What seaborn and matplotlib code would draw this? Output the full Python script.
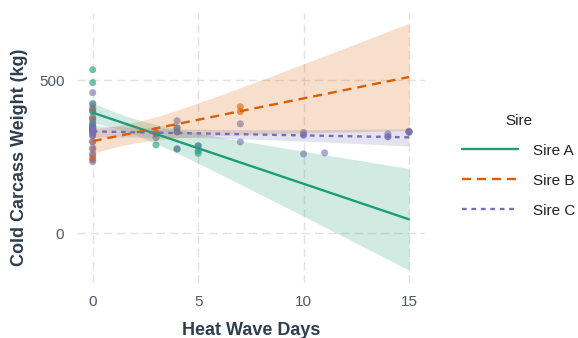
import matplotlib
matplotlib.use('Agg')
import matplotlib.pyplot as plt
from matplotlib.lines import Line2D
import seaborn as sns
import numpy as np
import pandas as pd

# heat wave days / cold carcass weight per sire
daysA = [0, 0, 0, 0, 0, 0, 0, 0, 0, 0, 0, 0, 3, 4, 4, 4, 5, 5, 5]
weightA = [535, 493, 345, 357, 345, 340, 380, 410, 360, 350, 400, 425,
           289, 332, 345, 276, 270, 286, 262]
daysB = [0, 0, 0, 0, 0, 0, 0, 0, 3, 3, 7, 7]
weightB = [405, 375, 335, 300, 275, 255, 245, 240, 326, 330, 414, 398]
daysC = [0, 0, 0, 0, 0, 0, 0, 0, 0, 0, 0, 0, 0, 0, 0, 0, 0, 0,
         3, 4, 4, 4, 4, 5, 7, 7, 10, 10, 10, 10, 11, 14, 14, 14, 15, 15, 15, 15]
weightC = [460, 421, 398, 370, 350, 340, 330, 320, 300, 280, 260, 234,
           335, 330, 345, 325, 340, 320,
           313, 368, 345, 332, 276, 286, 358, 299, 322, 260, 330, 322,
           263, 316, 325, 316, 332, 330, 334, 332]

sires = ['Sire A', 'Sire B', 'Sire C']
colors = ['#1B9E77', '#D95F02', '#7570B3']
styles = ['-', (0, (6.5, 4.3)), (0, (3.4, 3.4))]
xticks = [0, 5, 10, 15]
yticks = [0, 500]

df = pd.DataFrame({
    'days': daysA + daysB + daysC,
    'weight': weightA + weightB + weightC,
    'Sire': ['Sire A'] * len(daysA) + ['Sire B'] * len(daysB) + ['Sire C'] * len(daysC),
})


def t975(nu):
    # Cornish-Fisher expansion of the 97.5% Student t quantile
    z = 1.959964
    return (z + (z**3 + z) / (4 * nu)
            + (5 * z**5 + 16 * z**3 + 3 * z) / (96 * nu**2)
            + (3 * z**7 + 19 * z**5 + 17 * z**3 - 15 * z) / (384 * nu**3))


def lm_band(x, y, grid):
    # 95% confidence band of a straight-line fit (like geom_smooth(method='lm'))
    x = np.asarray(x, float)
    y = np.asarray(y, float)
    n = len(x)
    b, a = np.polyfit(x, y, 1)
    s = np.sqrt(np.sum((y - (a + b * x))**2) / (n - 2))
    sxx = np.sum((x - x.mean())**2)
    se = s * np.sqrt(1 / n + (grid - x.mean())**2 / sxx)
    fit = a + b * grid
    return fit - t975(n - 2) * se, fit + t975(n - 2) * se


sns.set_theme(style='white')
plt.rcParams['font.family'] = ['Liberation Sans', 'DejaVu Sans']
plt.rcParams['lines.scale_dashes'] = False

fig = plt.figure(figsize=(5.78, 3.38), dpi=100)
ax = fig.add_axes([0.133, 0.163, 0.602, 0.799])

sns.scatterplot(data=df, x='days', y='weight', hue='Sire', palette=colors,
                s=26, alpha=0.6, linewidth=0, legend=False, ax=ax)

# smooth lines cover the full day range
xmin, xmax = df['days'].min(), df['days'].max()
grid = np.linspace(xmin, xmax, 100)
ax.set_xlim(xmin, xmax)
for sire, col, ls in zip(sires, colors, styles):
    sub = df[df['Sire'] == sire]
    lo, hi = lm_band(sub['days'], sub['weight'], grid)
    ax.fill_between(grid, lo, hi, color=col, alpha=0.2, lw=0)
    sns.regplot(data=sub, x='days', y='weight', scatter=False, truncate=False,
                ci=None, color=col, line_kws=dict(lw=1.7, linestyle=ls), ax=ax)

ax.set_xlim(-0.75, 15.75)
ax.set_ylim(-162, 721)
ax.set_xticks(xticks)
ax.set_yticks(yticks)
ax.grid(True, color='#E2E2E2', lw=1.0, linestyle=(0, (6, 3.5)))
ax.set_axisbelow(True)
for sp in ax.spines.values():
    sp.set_visible(False)
ax.tick_params(length=0, pad=9, labelsize=11, labelcolor='#4D5A69')

ax.set_xlabel('Heat Wave Days', fontsize=13, fontweight='bold', color='#2E3D4F', labelpad=9)
ax.set_ylabel('Cold Carcass Weight (kg)', fontsize=13, fontweight='bold', color='#2E3D4F')
ax.yaxis.set_label_coords(-0.14, 0.466)

handles = [Line2D([], [], color=c, lw=1.7, linestyle=ls) for c, ls in zip(colors, styles)]
leg = fig.legend(handles, sires, title='Sire', loc='center left',
                 bbox_to_anchor=(0.799, 0.51), frameon=False, fontsize=11,
                 title_fontsize=11, handlelength=3.66, handletextpad=1.0,
                 labelspacing=1.05, borderpad=0, borderaxespad=0)
for t in leg.get_texts():
    t.set_color('#222222')
leg.get_title().set_color('#222222')

fig.savefig('out.png', dpi=100)
